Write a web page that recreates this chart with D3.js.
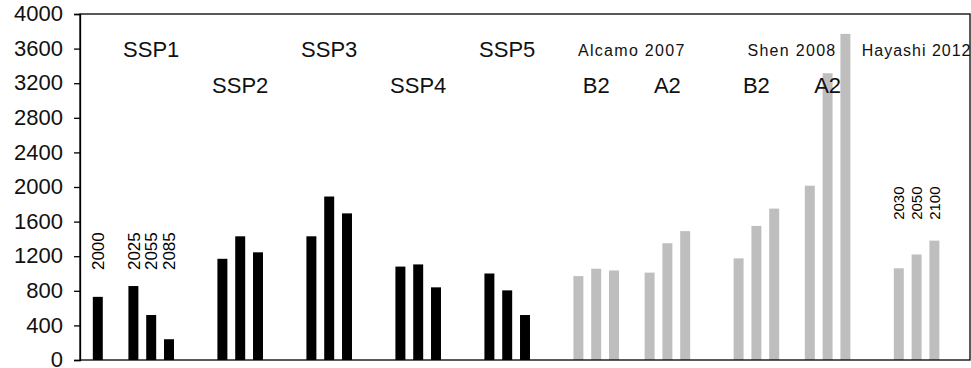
<!DOCTYPE html>
<html>
<head>
<meta charset="utf-8">
<script src="https://cdn.jsdelivr.net/npm/d3@7"></script>
<style>
	body { margin: 0; background: #fff; }
	svg { display: block; font-family: "Liberation Sans", Arial, sans-serif; }
</style>
</head>
<body>
<div id="chart"></div>
<script>
// data
var baseYear = "2000";
var baseValue = 730;
var sspNames = ["SSP1", "SSP2", "SSP3", "SSP4", "SSP5"];
var sspYears = ["2025", "2055", "2085"];
var sspValues = [
	[855, 520, 240],
	[1170, 1430, 1245],
	[1430, 1890, 1695],
	[1080, 1105, 840],
	[1000, 805, 520]
];
var sresNames = ["B2", "A2"];
var alcamoValues = [[970, 1055, 1035], [1010, 1350, 1490]];
var shenValues = [[1175, 1550, 1750], [2015, 3315, 3770]];
var hayashiYears = ["2030", "2050", "2100"];
var hayashiValues = [1060, 1220, 1380];
var yTicks = d3.range(0, 4001, 400);

var chart = {};
chart.width = 971;
chart.height = 368;
chart.margin = {top: 14, right: 1, bottom: 8, left: 80};

var black = "#000";
var grey = "#bebebe";

// build slot list (bars + blank spacers)
var slots = [];
var bars = [];
var gapCount = 0;
function gap(n) {
	for (var i = 0; i < n; i++) slots.push({key: "gap" + (gapCount++)});
}
function addBars(id, values, color) {
	var keys = [];
	values.forEach(function (v, i) {
		var k = id + "_" + i;
		slots.push({key: k});
		bars.push({key: k, value: v, color: color});
		keys.push(k);
	});
	return keys;
}

var baseKeys = addBars("base", [baseValue], black);
gap(1);
var sspKeys = [];
sspValues.forEach(function (vals, i) {
	if (i > 0) gap(2);
	sspKeys.push(addBars(sspNames[i], vals, black));
});
gap(2);
var alcamoKeys = [];
alcamoValues.forEach(function (vals, i) {
	if (i > 0) gap(1);
	alcamoKeys.push(addBars("alcamo" + sresNames[i], vals, grey));
});
gap(2);
var shenKeys = [];
shenValues.forEach(function (vals, i) {
	if (i > 0) gap(1);
	shenKeys.push(addBars("shen" + sresNames[i], vals, grey));
});
gap(2);
var hayashiKeys = addBars("hayashi", hayashiValues, grey);
gap(1);

var x = d3.scaleBand()
	.domain(slots.map(function (d) { return d.key; }))
	.range([chart.margin.left, chart.width - chart.margin.right])
	.paddingInner(0.44)
	.paddingOuter(0.72);

var y = d3.scaleLinear()
	.domain([0, 4000])
	.range([chart.height - chart.margin.bottom, chart.margin.top]);

function cx(k) { return x(k) + x.bandwidth() / 2; }

var svg = d3.select("#chart").append("svg")
	.attr("width", chart.width)
	.attr("height", chart.height);

// bars
svg.append("g").selectAll("rect")
	.data(bars)
	.join("rect")
	.attr("x", function (d) { return x(d.key); })
	.attr("y", function (d) { return y(d.value); })
	.attr("width", x.bandwidth())
	.attr("height", function (d) { return y(0) - y(d.value); })
	.attr("fill", function (d) { return d.color; });

// big labels
var big = svg.append("g").attr("font-size", 22).attr("text-anchor", "middle").attr("fill", "#111");
var rowTop = 57.3, rowLow = 92.7;
sspNames.forEach(function (name, i) {
	big.append("text")
		.attr("x", cx(sspKeys[i][1]))
		.attr("y", i % 2 == 0 ? rowTop : rowLow)
		.text(name);
});
sresNames.forEach(function (name, i) {
	big.append("text").attr("x", cx(alcamoKeys[i][1])).attr("y", rowLow).text(name);
	big.append("text").attr("x", cx(shenKeys[i][1])).attr("y", rowLow).text(name);
});

// source labels
var small = svg.append("g").attr("font-size", 16).attr("letter-spacing", 1.3)
	.attr("text-anchor", "middle").attr("fill", "#111");
function groupCenter(first, last) { return (x(first) + x(last) + x.bandwidth()) / 2; }
small.append("text").attr("x", groupCenter(alcamoKeys[0][0], alcamoKeys[1][2])).attr("y", 55.5).text("Alcamo 2007");
small.append("text").attr("x", groupCenter(shenKeys[0][0], shenKeys[1][2])).attr("y", 55.5).text("Shen 2008");
small.append("text").attr("x", groupCenter(hayashiKeys[0], hayashiKeys[2])).attr("y", 55.5)
	.attr("letter-spacing", 1.0).text("Hayashi 2012");

// rotated year labels
function yearLabel(k, txt, v, size) {
	svg.append("text")
		.attr("transform", "translate(" + cx(k) + "," + y(v) + ") rotate(-90)")
		.attr("dy", "0.36em")
		.attr("font-size", size)
		.attr("fill", "#000")
		.text(txt);
}
yearLabel(baseKeys[0], baseYear, 1040, 17);
sspYears.forEach(function (t, i) { yearLabel(sspKeys[0][i], t, 1040, 17); });
hayashiYears.forEach(function (t, i) { yearLabel(hayashiKeys[i], t, 1620, 15); });

// frame
svg.append("rect")
	.attr("x", chart.margin.left)
	.attr("y", chart.margin.top)
	.attr("width", chart.width - chart.margin.right - chart.margin.left)
	.attr("height", y(0) - chart.margin.top)
	.attr("fill", "none")
	.attr("stroke", black)
	.attr("stroke-width", 1.3);

// y axis
var yAxis = svg.append("g")
	.attr("transform", "translate(" + chart.margin.left + ",0)")
	.call(d3.axisLeft(y).tickValues(yTicks).tickFormat(d3.format("d")).tickSize(6).tickPadding(11));
yAxis.selectAll("text").attr("font-size", 22).attr("fill", "#111").attr("font-family", null)
	.attr("dy", "0.3em");
yAxis.selectAll("line, path").attr("stroke", black).attr("stroke-width", 1.3);
</script>
</body>
</html>
